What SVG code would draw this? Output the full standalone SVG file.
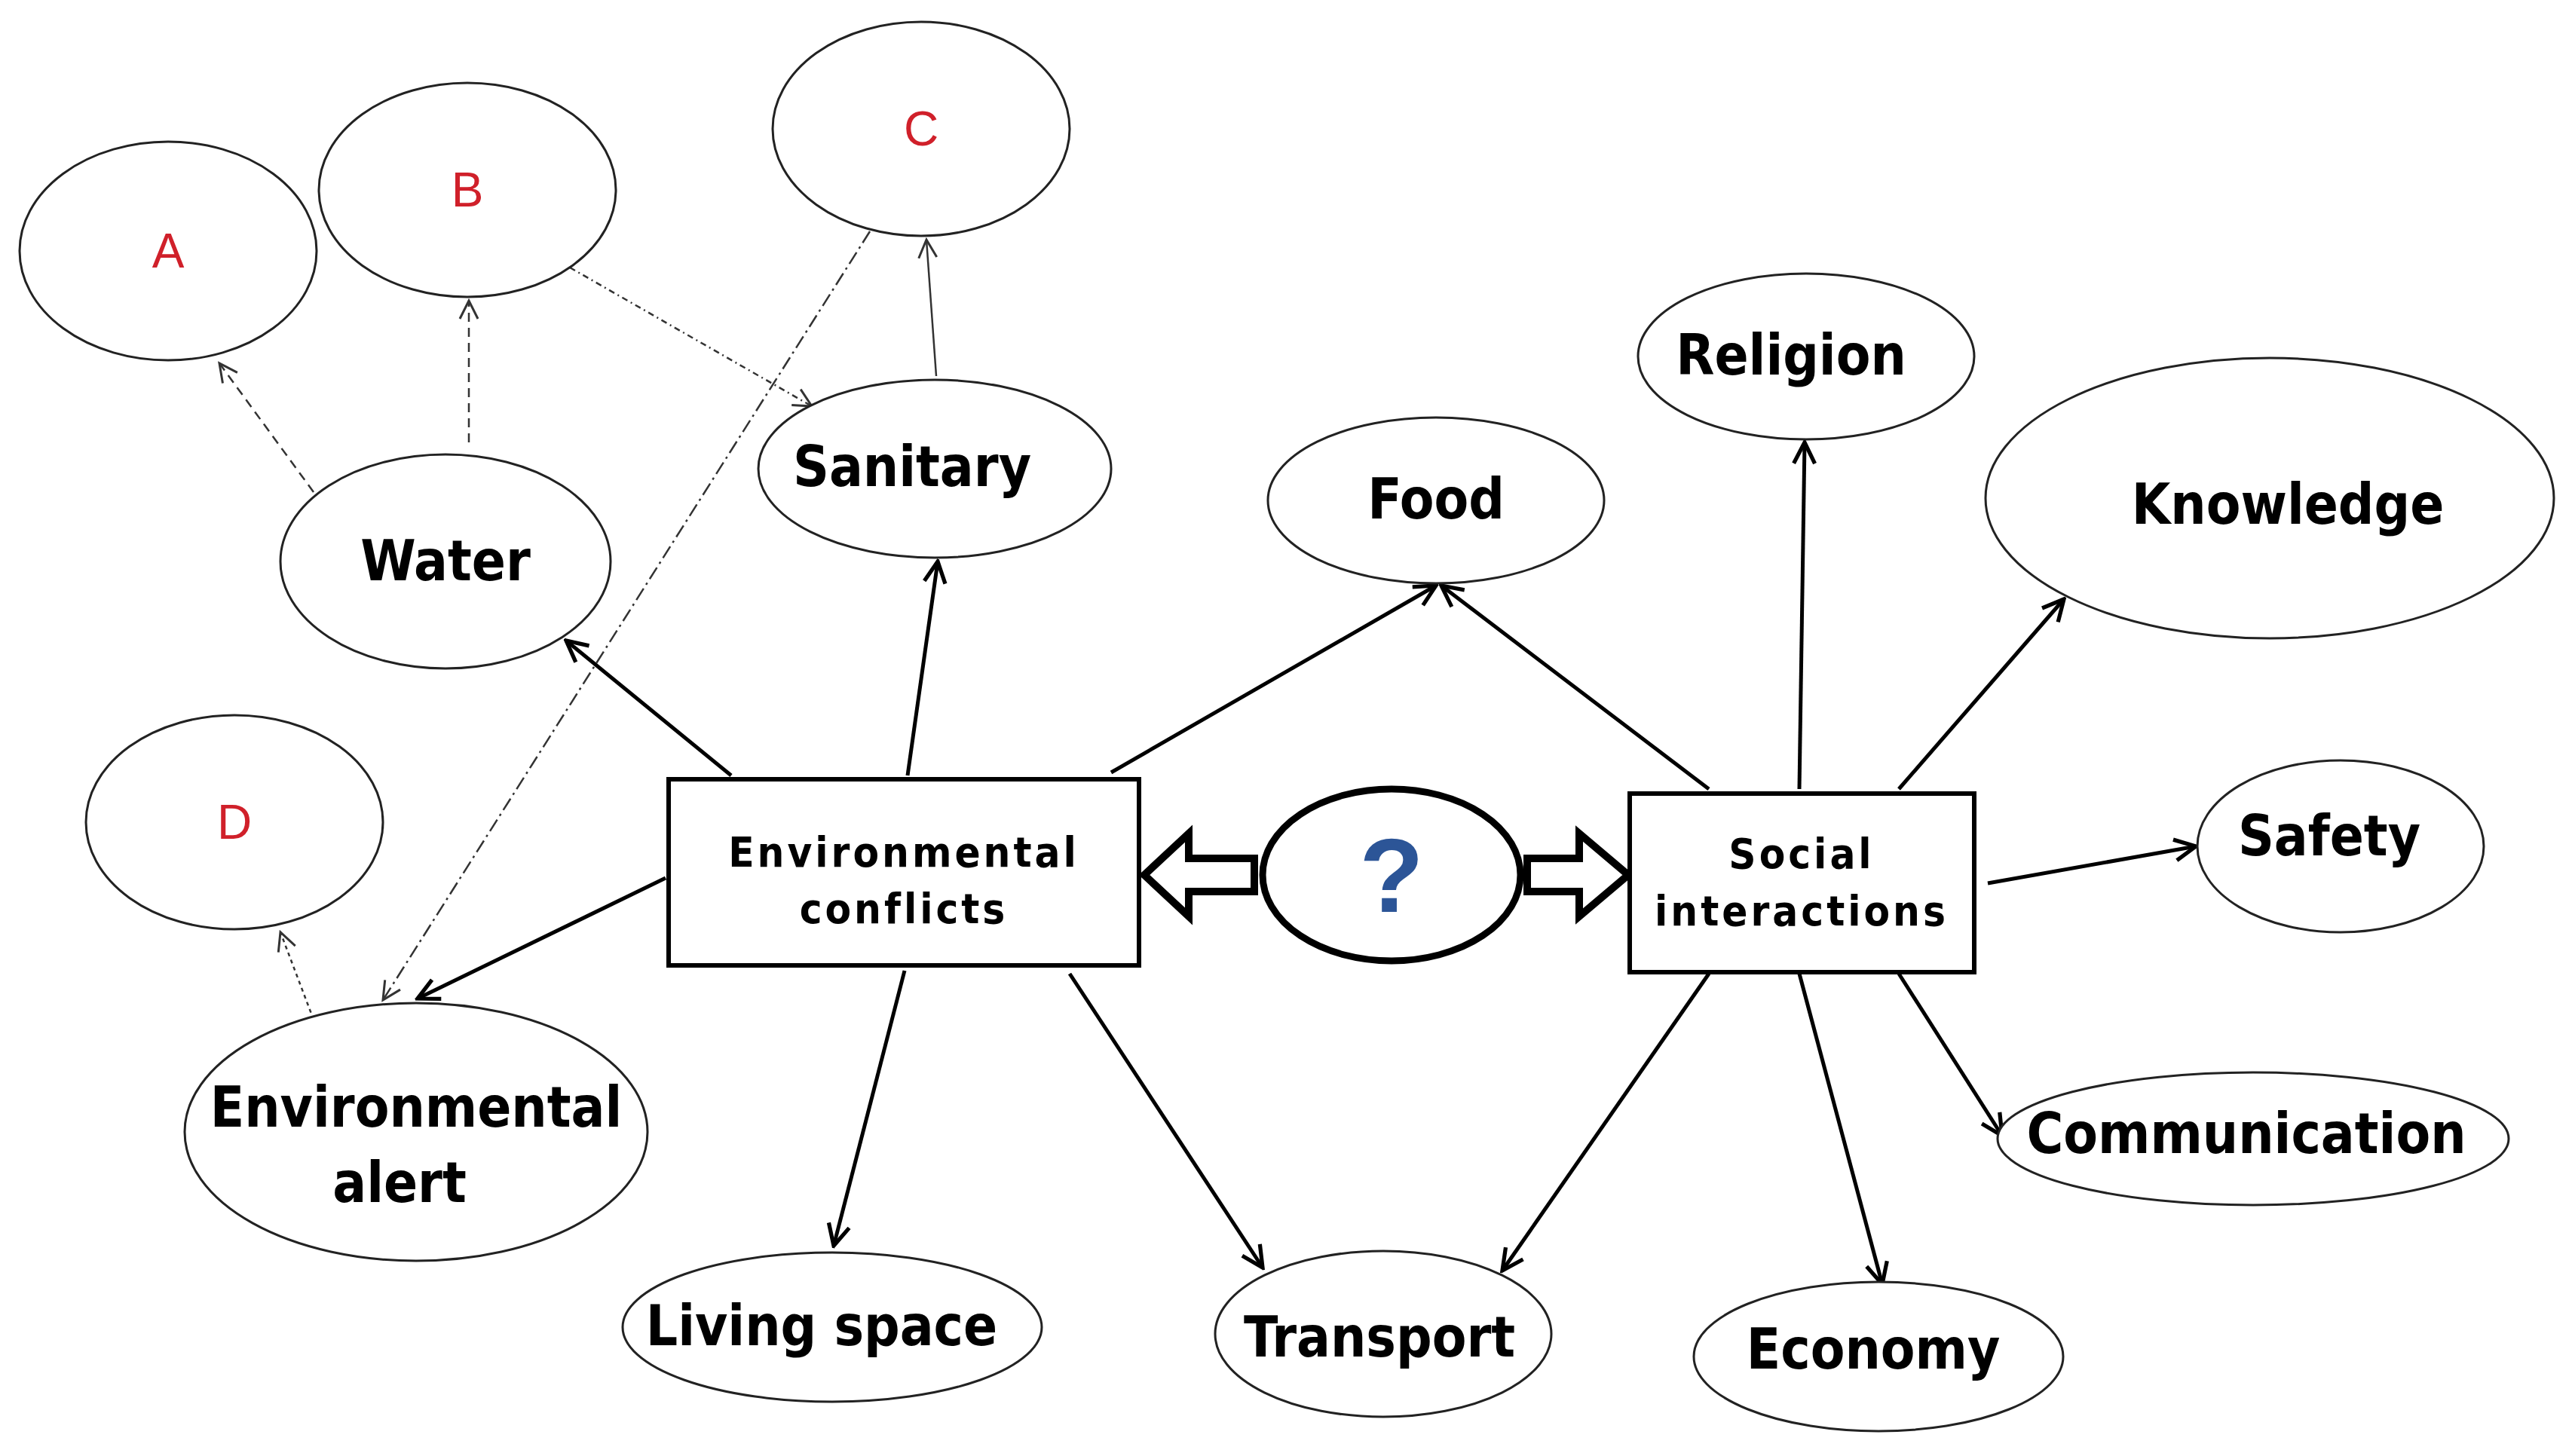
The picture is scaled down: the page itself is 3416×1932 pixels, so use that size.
<svg xmlns="http://www.w3.org/2000/svg" width="3416" height="1932" viewBox="0 0 3416 1932">
<style>
.n{fill:#fff;stroke:#222;stroke-width:3}
.b{fill:#fff;stroke:#000;stroke-width:6}
.t{font-family:"DejaVu Sans Condensed","DejaVu Sans",sans-serif;font-stretch:condensed;font-weight:bold;font-size:74px;fill:#000;text-anchor:middle}
.r{font-family:"Liberation Sans",sans-serif;font-size:64px;fill:#d0202a;text-anchor:middle}
.bt{font-family:"DejaVu Sans Condensed","DejaVu Sans",sans-serif;font-stretch:condensed;font-weight:bold;font-size:56px;letter-spacing:4px;fill:#000;text-anchor:middle}
.a{stroke:#000;stroke-width:5;fill:none;marker-end:url(#m)}
.d{stroke:#333;stroke-width:2.5;fill:none;marker-end:url(#mt)}
</style>
<defs>
<marker id="m" viewBox="0 0 20 20" refX="18" refY="10" markerWidth="7" markerHeight="7" markerUnits="strokeWidth" orient="auto"><path d="M2 2 L18 10 L2 18" fill="none" stroke="#000" stroke-width="3"/></marker>
<marker id="mt" viewBox="0 0 20 20" refX="18" refY="10" markerWidth="12" markerHeight="12" markerUnits="strokeWidth" orient="auto"><path d="M2 2 L18 10 L2 18" fill="none" stroke="#333" stroke-width="2"/></marker>
</defs>
<rect width="3416" height="1932" fill="#fff"/>
<g id="connectors">
<line class="a" x1="970" y1="1029" x2="751" y2="850"/>
<line class="a" x1="1204" y1="1029" x2="1244" y2="745"/>
<line class="a" x1="1474" y1="1025" x2="1905" y2="777"/>
<line class="a" x1="883" y1="1165" x2="554" y2="1325"/>
<line class="a" x1="1200" y1="1288" x2="1106" y2="1653"/>
<line class="a" x1="1419" y1="1292" x2="1675" y2="1682"/>
<line class="a" x1="2267" y1="1047" x2="1912" y2="777"/>
<line class="a" x1="2387" y1="1047" x2="2394" y2="587"/>
<line class="a" x1="2519" y1="1047" x2="2738" y2="795"/>
<line class="a" x1="2637" y1="1172" x2="2913" y2="1123"/>
<line class="a" x1="2519" y1="1292" x2="2656" y2="1507"/>
<line class="a" x1="2387" y1="1292" x2="2497" y2="1704"/>
<line class="a" x1="2267" y1="1292" x2="1993" y2="1686"/>
<line class="d" x1="416" y1="653" x2="291" y2="482" stroke-dasharray="12 8"/>
<line class="d" x1="622" y1="587" x2="622" y2="399" stroke-dasharray="12 8"/>
<line class="d" x1="756" y1="355" x2="1077" y2="539" stroke-dasharray="8 5 2 5"/>
<line class="d" x1="1242" y1="499" x2="1229" y2="318"/>
<line class="d" x1="1154" y1="307" x2="508" y2="1327" stroke-dasharray="18 6 3 6"/>
<line class="d" x1="416" y1="1353" x2="372" y2="1237" stroke-dasharray="5 5"/>
<path d="M1664 1139 L1577 1139 L1577 1106 L1518 1161 L1577 1216 L1577 1183 L1664 1183 Z" fill="#fff" stroke="#000" stroke-width="10"/>
<path d="M2026 1139 L2095 1139 L2095 1106 L2160 1161 L2095 1216 L2095 1183 L2026 1183 Z" fill="#fff" stroke="#000" stroke-width="10"/>
</g>
<g id="A"><ellipse class="n" cx="223" cy="333" rx="197" ry="145"/><text class="r" x="223" y="355">A</text></g>
<g id="B"><ellipse class="n" cx="620" cy="252" rx="197" ry="142"/><text class="r" x="620" y="274">B</text></g>
<g id="C"><ellipse class="n" cx="1222" cy="171" rx="197" ry="142"/><text class="r" x="1222" y="193">C</text></g>
<g id="D"><ellipse class="n" cx="311" cy="1091" rx="197" ry="142"/><text class="r" x="311" y="1113">D</text></g>
<g id="water"><ellipse class="n" cx="591" cy="745" rx="219" ry="142"/><text class="t" x="591" y="770">Water</text></g>
<g id="sanitary"><ellipse class="n" cx="1240" cy="622" rx="234" ry="118"/><text class="t" x="1210" y="645">Sanitary</text></g>
<g id="envalert"><ellipse class="n" cx="552" cy="1502" rx="307" ry="171"/><text class="t" x="552" y="1495">Environmental</text><text class="t" x="530" y="1595">alert</text></g>
<g id="envconflicts"><rect class="b" x="887" y="1034" width="624" height="247"/><text class="bt" x="1199" y="1150">Environmental</text><text class="bt" x="1199" y="1225">conflicts</text></g>
<g id="question"><ellipse cx="1846" cy="1161" rx="171" ry="114" fill="#fff" stroke="#000" stroke-width="9"/><text x="1846" y="1210" font-family="Liberation Sans,sans-serif" font-weight="bold" font-size="140" fill="#2c5597" text-anchor="middle">?</text></g>
<g id="social"><rect class="b" x="2162" y="1053" width="457" height="237"/><text class="bt" x="2390" y="1152">Social</text><text class="bt" x="2390" y="1228">interactions</text></g>
<g id="food"><ellipse class="n" cx="1905" cy="664" rx="223" ry="110"/><text class="t" x="1905" y="688">Food</text></g>
<g id="religion"><ellipse class="n" cx="2396" cy="473" rx="223" ry="110"/><text class="t" x="2376" y="497">Religion</text></g>
<g id="knowledge"><ellipse class="n" cx="3011" cy="661" rx="377" ry="186"/><text class="t" x="3035" y="695">Knowledge</text></g>
<g id="safety"><ellipse class="n" cx="3105" cy="1123" rx="190" ry="114"/><text class="t" x="3090" y="1135">Safety</text></g>
<g id="communication"><ellipse class="n" cx="2989" cy="1511" rx="339" ry="88"/><text class="t" x="2980" y="1530">Communication</text></g>
<g id="economy"><ellipse class="n" cx="2492" cy="1800" rx="245" ry="99"/><text class="t" x="2485" y="1816">Economy</text></g>
<g id="transport"><ellipse class="n" cx="1835" cy="1770" rx="223" ry="110"/><text class="t" x="1830" y="1800">Transport</text></g>
<g id="living"><ellipse class="n" cx="1104" cy="1761" rx="278" ry="99"/><text class="t" x="1090" y="1785">Living  space</text></g>
</svg>
